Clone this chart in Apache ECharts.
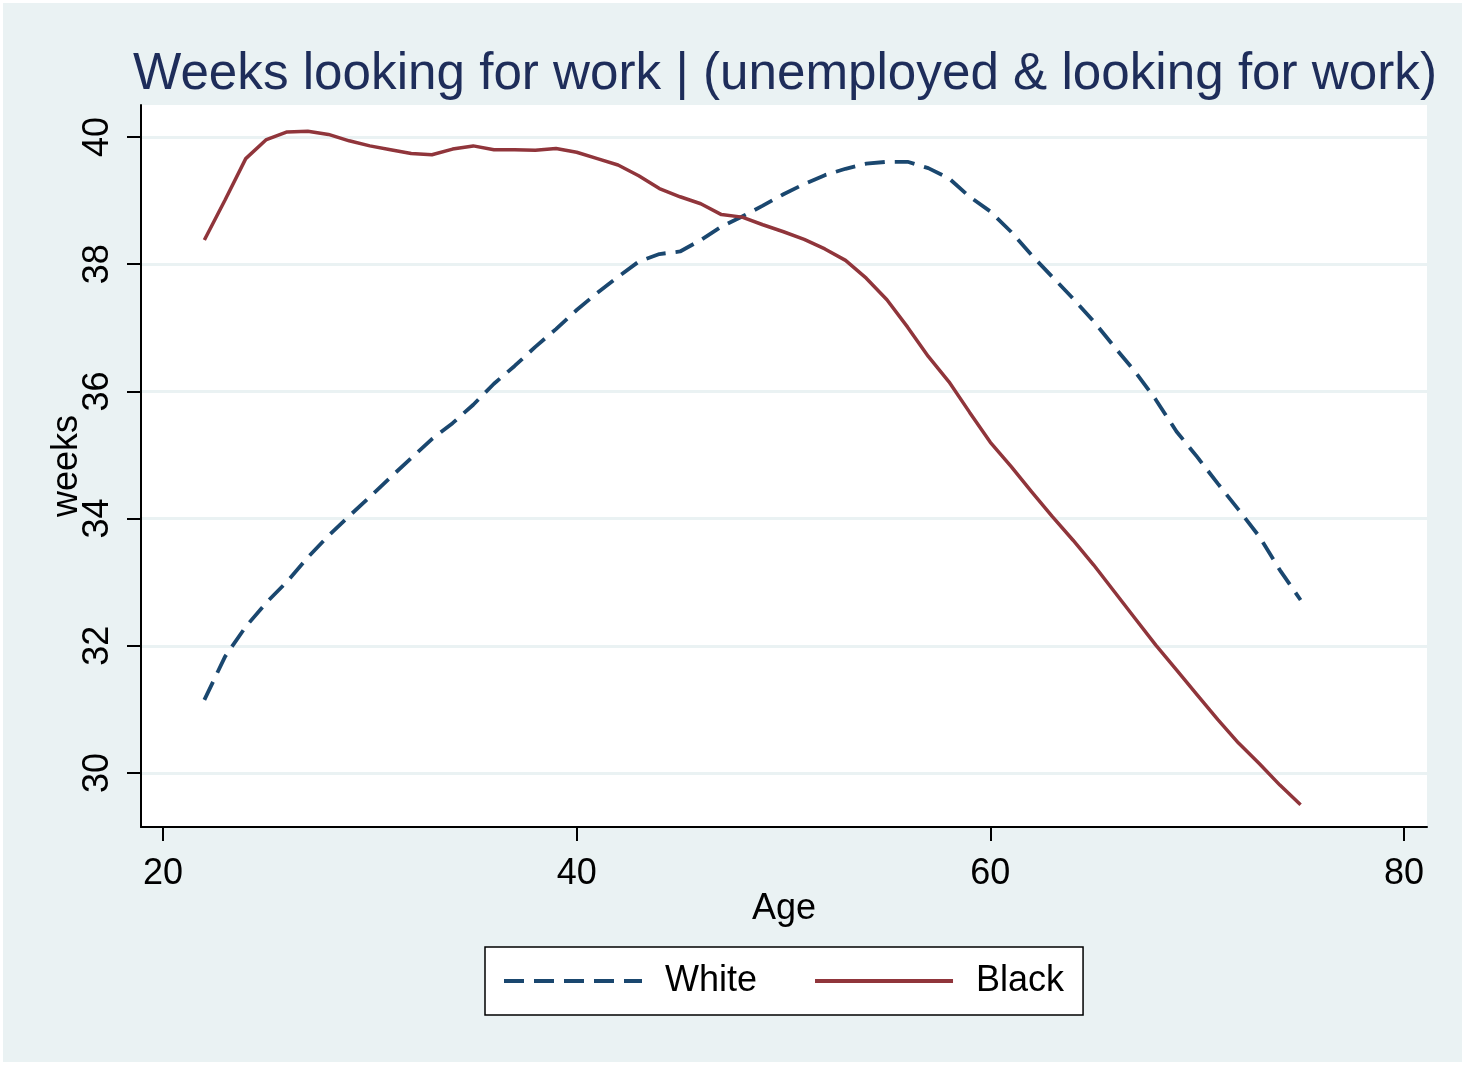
<!DOCTYPE html>
<html>
<head>
<meta charset="utf-8">
<script src="https://cdn.jsdelivr.net/npm/echarts@6/dist/echarts.min.js"></script>
<style>
html,body{margin:0;padding:0;background:#ffffff;}
#chart{width:1465px;height:1065px;}
</style>
</head>
<body>
<div id="chart"></div>
<script>
const ages = [22,23,24,25,26,27,28,29,30,31,32,33,34,35,36,37,38,39,40,41,42,43,44,45,46,47,48,
  49,50,51,52,53,54,55,56,57,58,59,60,61,62,63,64,65,66,67,68,69,70,71,72,73,74,75];
const whiteWeeks = [31.15,31.83,32.30,32.68,33.01,33.39,33.73,34.04,34.34,34.65,34.95,35.25,35.50,
  35.79,36.12,36.40,36.70,36.98,37.28,37.55,37.80,38.04,38.16,38.20,38.38,38.59,38.75,38.92,39.10,
  39.26,39.40,39.50,39.58,39.61,39.61,39.51,39.35,39.06,38.83,38.51,38.14,37.80,37.46,37.10,36.70,
  36.31,35.87,35.37,34.97,34.55,34.14,33.72,33.19,32.72];
const blackWeeks = [38.38,39.01,39.66,39.96,40.08,40.09,40.04,39.94,39.86,39.80,39.74,39.72,39.81,
  39.86,39.80,39.80,39.79,39.82,39.76,39.66,39.56,39.39,39.19,39.06,38.95,38.78,38.74,38.62,38.51,
  38.39,38.24,38.06,37.78,37.44,37.01,36.55,36.15,35.67,35.20,34.82,34.42,34.03,33.66,33.27,32.85,
  32.43,32.01,31.62,31.23,30.84,30.47,30.15,29.81,29.50];
const xTicks = [20,40,60,80];
const yTicks = [30,32,34,36,38,40];
const seriesNames = ['White','Black'];
const titleText = 'Weeks looking for work | (unemployed & looking for work)';

const FONT = '"Liberation Sans", Arial, Helvetica, sans-serif';
const chart = echarts.init(document.getElementById('chart'));
chart.setOption({
  backgroundColor: '#EAF2F3',
  animation: false,
  graphic: [{
    type: 'rect', silent: true, z: 100,
    shape: {x: 0, y: 0, width: 1465, height: 1065},
    style: {fill: 'none', stroke: '#ffffff', lineWidth: 6}
  }],
  title: {
    text: titleText,
    left: 133,
    top: 49,
    padding: 0,
    textStyle: {fontFamily: FONT, fontSize: 51.2, fontWeight: 'normal', color: '#1e2d5a'}
  },
  grid: {left: 141, right: 38, top: 105, bottom: 238, containLabel: false,
    show: true, backgroundColor: '#ffffff', borderWidth: 0},
  legend: {
    left: 485, top: 947,
    padding: [16, 19, 16, 17],
    itemGap: 56,
    itemWidth: 138,
    itemHeight: 20,
    backgroundColor: '#ffffff',
    borderColor: '#000000',
    borderWidth: 1.5,
    borderRadius: 0,
    itemStyle: {opacity: 0},
    lineStyle: {width: 4},
    textStyle: {fontFamily: FONT, fontSize: 36, color: '#000000', padding: [0, 0, 0, 18]},
    data: seriesNames
  },
  xAxis: {
    type: 'value', min: 18.936, max: 81.112,
    name: 'Age', nameLocation: 'middle', nameGap: 64, nameMoveOverlap: false,
    nameTextStyle: {fontFamily: FONT, fontSize: 36, color: '#000000'},
    axisLine: {show: true, lineStyle: {color: '#000000', width: 2}},
    axisTick: {show: true, length: 14, lineStyle: {color: '#000000', width: 2}, customValues: xTicks},
    axisLabel: {fontFamily: FONT, fontSize: 36, color: '#000000', margin: 29, customValues: xTicks},
    splitLine: {show: false}
  },
  yAxis: {
    type: 'value', min: 29.151, max: 40.503,
    name: 'weeks', nameLocation: 'middle', nameGap: 56, nameMoveOverlap: false,
    nameTextStyle: {fontFamily: FONT, fontSize: 36, color: '#000000'},
    axisLine: {show: true, lineStyle: {color: '#000000', width: 2}},
    axisTick: {show: true, length: 14, lineStyle: {color: '#000000', width: 2}, customValues: yTicks},
    axisLabel: {fontFamily: FONT, fontSize: 36, color: '#000000', margin: 25, rotate: 90, customValues: yTicks},
    splitLine: {show: true, lineStyle: {color: '#EAF2F3', width: 3}}
  },
  series: [
    {
      name: seriesNames[0], type: 'line', symbol: 'none', z: 3,
      data: ages.map((a, i) => [a, whiteWeeks[i]]),
      lineStyle: {color: '#1a476f', width: 3.8, type: [20, 10]},
      itemStyle: {color: '#1a476f'}
    },
    {
      name: seriesNames[1], type: 'line', symbol: 'none', z: 4,
      data: ages.map((a, i) => [a, blackWeeks[i]]),
      lineStyle: {color: '#90353b', width: 3.5},
      itemStyle: {color: '#90353b'}
    }
  ]
});
</script>
</body>
</html>
